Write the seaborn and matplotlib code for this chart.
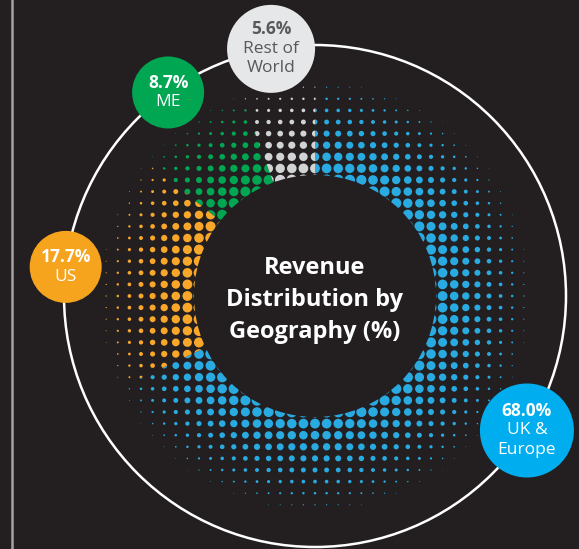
import numpy as np
import pandas as pd
import matplotlib
matplotlib.use("Agg")
import matplotlib.pyplot as plt
import seaborn as sns
from matplotlib.patches import Circle, Wedge

# ---- data ----
regions = ["UK & Europe", "US", "ME", "Rest of World"]
shares = [68.0, 17.7, 8.7, 5.6]
label_lines = [["UK &", "Europe"], ["US"], ["ME"], ["Rest of", "World"]]
title_lines = ["Revenue", "Distribution by", "Geography (%)"]

# ---- style ----
dot_colors = ["#29abe2", "#f9a72a", "#00a651", "#d1d3d4"]
badge_colors = ["#00aeef", "#f6a31d", "#00a651", "#e6e7e8"]
text_colors = ["white", "white", "white", "#58595b"]
badge_radius = [47, 36, 36, 44]

BG = "#231f20"
W, H = 579, 549
cx, cy = 315, 296
R_ring = 251
R_hole = 121
R_zero = 221
R_max = 216
step = 11.6

sns.set_theme(style="white")
plt.rcParams["font.family"] = ["Open Sans", "DejaVu Sans"]

fig = plt.figure(figsize=(W / 100, H / 100), dpi=100, facecolor=BG)
ax = fig.add_axes([0, 0, 1, 1])
ax.set_facecolor(BG)
ax.set_xlim(0, W)
ax.set_ylim(H, 0)
ax.set_aspect("equal")
ax.axis("off")

# halftone dot grid
n = int(R_max / step) + 1
ii = np.arange(-n, n + 1)
gx, gy = np.meshgrid(ii * step, ii * step)
gx = gx.ravel()
gy = gy.ravel()
r = np.hypot(gx, gy)
keep = (r > R_hole - 10) & (r < R_max)
gx, gy, r = gx[keep], gy[keep], r[keep]
diam = 0.105 * (R_zero - r)
phi = np.degrees(np.arctan2(gx, -gy)) % 360
dots = pd.DataFrame(dict(x=cx + gx, y=cy + gy, s=(diam * 0.72) ** 2, phi=phi))
smin, smax = dots["s"].min(), dots["s"].max()

bounds = np.concatenate([[0], np.cumsum(shares) / np.sum(shares) * 360])
margin = 6
for k, reg in enumerate(regions):
    a1, a2 = bounds[k], bounds[k + 1]
    d = (dots["phi"] - a1) % 360
    sub = dots[(d <= (a2 - a1) + margin) | (d >= 360 - margin)]
    n_before = len(ax.collections)
    sns.scatterplot(data=sub, x="x", y="y", size="s", sizes=(smin, smax),
                    size_norm=(smin, smax), color=dot_colors[k], linewidth=0,
                    edgecolor="none", legend=False, ax=ax, zorder=2)
    coll = ax.collections[n_before]
    wedge = Wedge((cx, cy), R_max + 10, a1 - 90, a2 - 90, transform=ax.transData)
    coll.set_clip_path(wedge)

# centre hole and ring
ax.add_patch(Circle((cx, cy), R_hole, facecolor=BG, edgecolor="none", zorder=3))
ax.add_patch(Circle((cx, cy), R_ring, fill=False, edgecolor="white", lw=1.8, zorder=4))

# left rule
ax.plot([12, 12], [0, H], color="#a3a3a3", lw=1.8, zorder=1)

# centre title
for i, t in enumerate(title_lines):
    ax.text(cx, 268 + i * 32, t, ha="center", va="center", color="white",
            fontsize=17, fontweight="bold", zorder=6)

# badges
for k, reg in enumerate(regions):
    mid = np.radians((bounds[k] + bounds[k + 1]) / 2)
    bx = cx + R_ring * np.sin(mid)
    by = cy - R_ring * np.cos(mid)
    ax.add_patch(Circle((bx, by), badge_radius[k], facecolor=badge_colors[k],
                        edgecolor="none", zorder=5))
    lines = [f"{shares[k]:.1f}%"] + label_lines[k]
    y0 = by - (len(lines) - 1) / 2 * 19.5
    for j, t in enumerate(lines):
        ax.text(bx, y0 + j * 19.5, t, ha="center", va="center", color=text_colors[k],
                fontsize=12.5, fontweight="bold" if j == 0 else "normal", zorder=6)

fig.savefig("out.png", dpi=100, facecolor=BG)
